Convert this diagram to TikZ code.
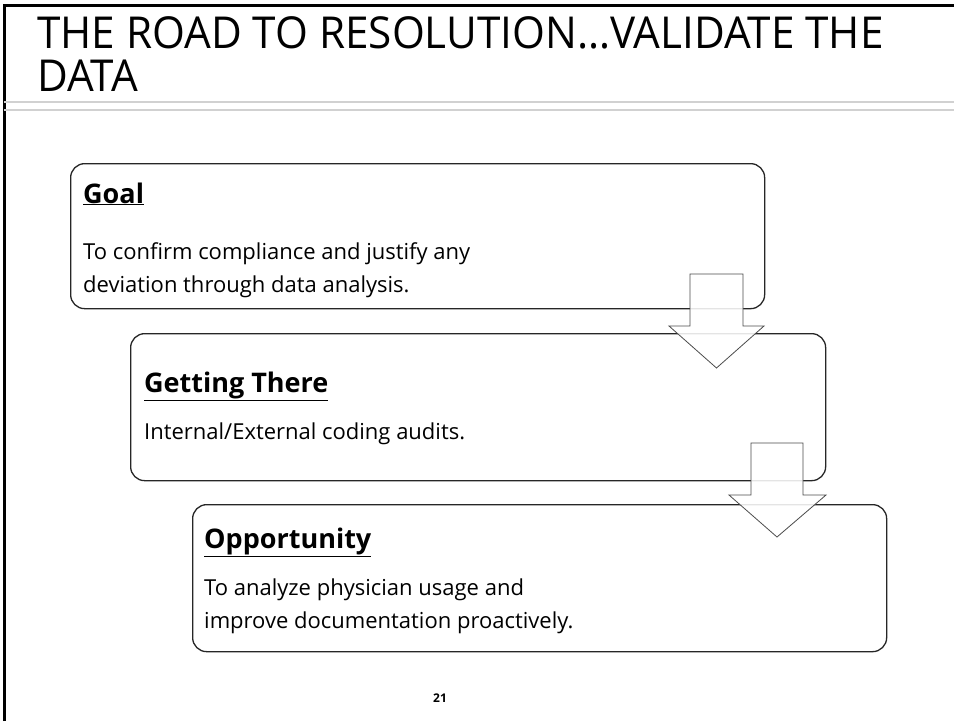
\documentclass[tikz,border=0pt]{standalone}
\usepackage{fontspec}
\setmainfont{Open Sans}
\begin{document}
\begin{tikzpicture}[x=1pt,y=-1pt,
  stagebox/.style={draw=black!85, line width=1.3pt, rounded corners=14pt, fill=white, anchor=north west, inner sep=0},
  headtxt/.style={anchor=base west, inner sep=0, font=\fontsize{27}{30}\selectfont\bfseries},
  bodytxt/.style={anchor=base west, inner sep=0, font=\fontsize{22}{28}\selectfont},
  titletxt/.style={anchor=base west, inner sep=0, font=\fontsize{44}{48}\selectfont\addfontfeature{FakeStretch=0.96}},
  blockarrow/.style={draw=black!70, line width=0.8pt, fill=white, fill opacity=0.88, line join=miter}]
\useasboundingbox (0,0) rectangle (954,721);
% frame
\draw[black, line width=3pt] (4,721) -- (4,5) -- (954,5);
\draw[black!18, line width=1.2pt] (4,102) -- (954,102);
\draw[black!18, line width=1.2pt] (4,110) -- (954,110);
% title
\node[titletxt] (title1) at (37,48) {THE ROAD TO RESOLUTION…VALIDATE THE};
\node[titletxt] (title2) at (37,91) {DATA};
% boxes
\node[stagebox, minimum width=694pt, minimum height=145pt] (goal) at (70,163) {};
\node[stagebox, minimum width=695pt, minimum height=147pt] (getting) at (130,333) {};
\node[stagebox, minimum width=694pt, minimum height=147pt] (opp) at (192,504) {};
% block arrows
\draw[blockarrow] (690,274) -- (743,274) -- (743,326) -- (764,326) -- (716.5,368) -- (669,326) -- (690,326) -- cycle;
\draw[blockarrow] (751,443) -- (803,443) -- (803,495) -- (826,495) -- (777,537) -- (729,495) -- (751,495) -- cycle;
% texts
\node[headtxt] (goalh) at (83,203) {\underline{Goal}};
\node[bodytxt] (goalb1) at (83,259) {To confirm compliance and justify any};
\node[bodytxt] (goalb2) at (83,292) {deviation through data analysis.};
\node[headtxt] (geth) at (144,392) {\underline{Getting There}};
\node[bodytxt] (getb) at (144,439) {Internal/External coding audits.};
\node[headtxt] (opph) at (204,548) {\underline{Opportunity}};
\node[bodytxt] (oppb1) at (204,595) {To analyze physician usage and};
\node[bodytxt] (oppb2) at (204,628) {improve documentation proactively.};
\node[anchor=base, inner sep=0, font=\fontsize{12}{14}\selectfont\bfseries] (pagenum) at (440,702) {21};
\end{tikzpicture}
\end{document}
